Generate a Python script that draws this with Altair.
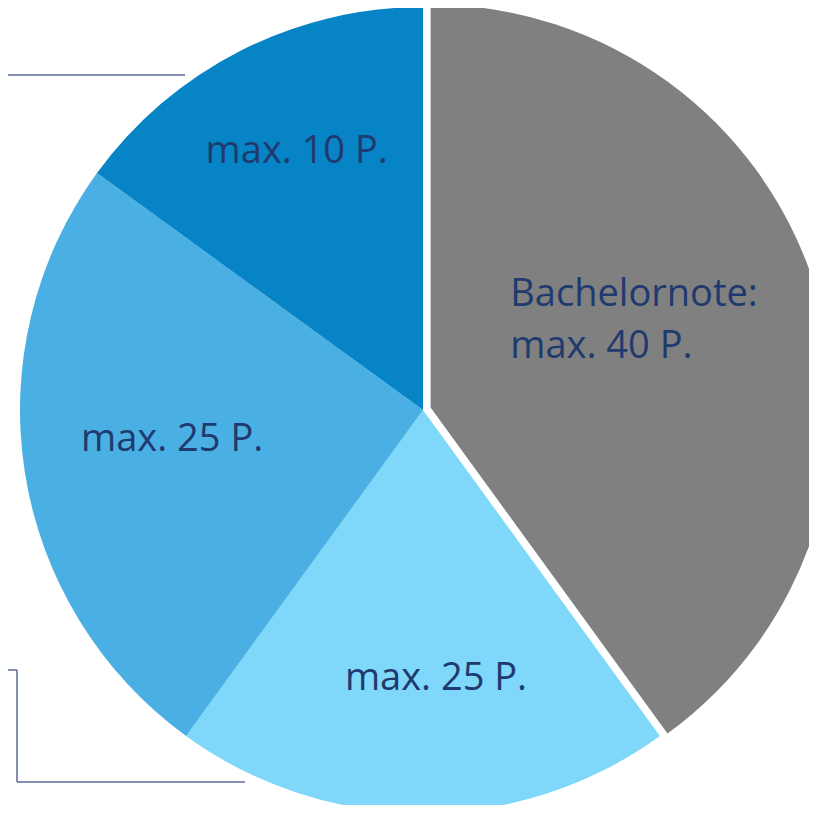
import altair as alt
import pandas as pd

categories = ["Bachelornote", "Teil 2", "Teil 3", "Teil 4"]
values = [40, 20, 25, 15]
labels = ["Bachelornote:\nmax. 40 P.", "max. 25 P.", "max. 25 P.", "max. 10 P."]
colors = ["#808080", "#7fd7f9", "#4aafe3", "#0784c6"]

df = pd.DataFrame({
    "cat": categories,
    "value": values,
    "label": labels,
    "idx": list(range(len(categories))),
})

W, H = 801, 797
CX, CY = 415, 402
R = 403
# exploded centre of the first slice
GX, GY = 422.6, 399.5
TEXT_COLOR = "#1f3a6e"
FONT = "Open Sans"
FS = 38

theta = alt.Theta("value:Q", stack=True)
order = alt.Order("idx:Q")
color = alt.Color("cat:N", scale=alt.Scale(domain=categories, range=colors), legend=None)

base = alt.Chart(df)

pie_rest = base.mark_arc(radius=R, strokeWidth=0).encode(
    theta=theta, order=order, color=color,
    x=alt.value(CX), y=alt.value(CY),
    opacity=alt.condition(alt.datum.cat == categories[0], alt.value(0), alt.value(1)),
)
pie_first = base.mark_arc(radius=R, strokeWidth=0).encode(
    theta=theta, order=order, color=color,
    x=alt.value(GX), y=alt.value(GY),
    opacity=alt.condition(alt.datum.cat == categories[0], alt.value(1), alt.value(0)),
)

def label_layer(cat, cx, cy, radius, dx=0, dy=0, align="center"):
    return base.mark_text(
        radius=radius, dx=dx, dy=dy, align=align, baseline="middle",
        font=FONT, fontSize=FS, color=TEXT_COLOR, lineBreak="\n", lineHeight=52,
    ).encode(
        theta=theta, order=order, text="label:N",
        x=alt.value(cx), y=alt.value(cy),
        opacity=alt.condition(alt.datum.cat == cat, alt.value(1), alt.value(0)),
    )

t0 = label_layer(categories[0], GX, GY, 281.5, dx=-188, dy=-26, align="left")
t1 = label_layer(categories[1], CX, CY, 269, dx=13)
t2 = label_layer(categories[2], CX, CY, 254, dy=-10)
t3 = label_layer(categories[3], CX, CY, 287, dx=4, dy=-2)

LINE = "#5b6b99"
def seg(x1, y1, x2, y2):
    return alt.Chart(pd.DataFrame({"a": [0]})).mark_rule(color=LINE, strokeWidth=1.5).encode(
        x=alt.value(x1), y=alt.value(y1), x2=alt.value(x2), y2=alt.value(y2)
    )

lines = [
    seg(0, 67, 177, 67),
    seg(0, 662, 9, 662),
    seg(9, 662, 9, 774),
    seg(9, 774, 237, 774),
]

chart = alt.layer(pie_rest, pie_first, t0, t1, t2, t3, *lines).properties(
    width=W, height=H, padding=0, autosize=alt.AutoSizeParams(type="none")
).configure_view(stroke=None)

chart.save("out.html", embed_options={"renderer": "svg", "actions": False})
